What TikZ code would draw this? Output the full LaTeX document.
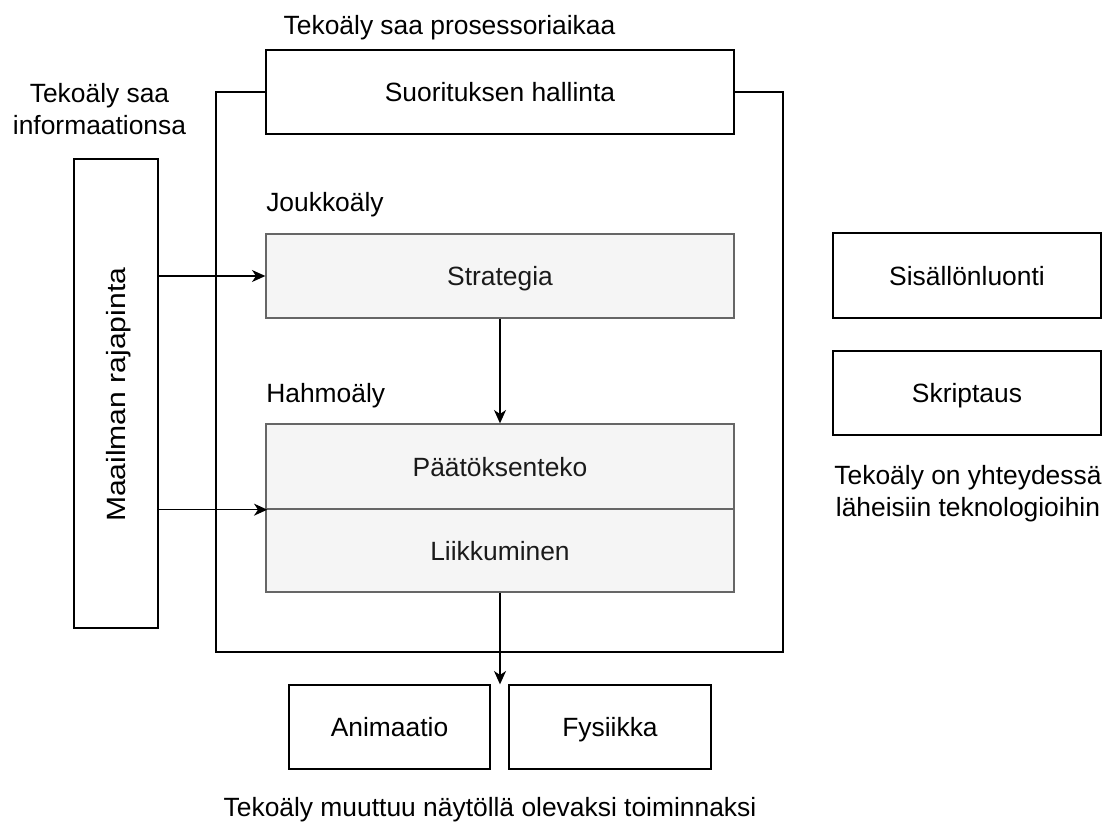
\documentclass[tikz,border=0pt]{standalone}
\usepackage{fontspec}
\setmainfont{Liberation Sans}
\usetikzlibrary{arrows.meta,calc}
\definecolor{boxgray}{HTML}{F5F5F5}
\definecolor{edgegray}{HTML}{666666}
\definecolor{txtgray}{HTML}{1A1A1A}
\begin{document}
\begin{tikzpicture}[x=0.75pt,y=-0.75pt,
  every node/.style={font=\fontsize{19.8}{23.8}\selectfont, inner sep=0pt,
    text height=14.3pt, text depth=0pt},
  plainbox/.style={draw=black, line width=1pt, fill=white},
  graybox/.style={draw=edgegray, line width=1pt, fill=boxgray, text=txtgray},
  caption/.style={align=center},
  wire/.style={draw=black, line width=1pt},
  arr/.style={wire, -{Stealth[length=10pt,width=9pt,inset=3pt]}}
]
\useasboundingbox (0,0) rectangle (1111,825);

% execution control box and the frame around the AI layers
\node[plainbox, minimum width=351pt, minimum height=63pt] (suor) at (500,92) {Suorituksen hallinta};
\coordinate (fbl) at (216,652);
\coordinate (fbr) at (783,652);
\draw[wire] (suor.west) -| (fbl) -- (fbr) |- (suor.east);

\node (tproc) at (449.5,25) {Tekoäly saa prosessoriaikaa};
\node[caption] (tinfo) at (99.5,125) {Tekoäly saa\\informaationsa};

% world interface
\node[plainbox, minimum width=63pt, minimum height=351.75pt] (maail) at (116,393.5) {};
\node[rotate=90] (maailtxt) at ([yshift=-1pt]maail.center) {\scalebox{1.14}[1]{Maailman rajapinta}};

% group AI
\node[anchor=west] (jouk) at (266,202) {Joukkoäly};
\node[graybox, minimum width=351pt, minimum height=63pt] (strat) at (500,276) {Strategia};

% character AI
\node[anchor=west] (hahm) at (266,393) {Hahmoäly};
\node[graybox, minimum width=351pt, minimum height=63.75pt] (paat) at (500,466.5) {Päätöksenteko};
\node[graybox, minimum width=351pt, minimum height=62.25pt] (liik) at (500,550.5) {Liikkuminen};

% output systems
\node[plainbox, minimum width=150.75pt, minimum height=63pt] (anim) at (389.5,727) {Animaatio};
\node[plainbox, minimum width=151.5pt, minimum height=63pt] (fys) at (610,727) {Fysiikka};
\node (tout) at (490,807) {Tekoäly muuttuu näytöllä olevaksi toiminnaksi};

% related technologies
\node[plainbox, minimum width=201pt, minimum height=63.75pt] (sis) at (967,275.5) {Sisällönluonti};
\node[plainbox, minimum width=201pt, minimum height=63pt] (skr) at (967,393) {Skriptaus};
\node[caption] (trel) at (968,507) {Tekoäly on yhteydessä\\läheisiin teknologioihin};

% connectors
\coordinate (outtip) at (liik.south |- anim.north);
\draw[arr] (maail.east |- strat.west) -- (strat.west);
\draw[arr] (maail.east |- paat.south west) -- ([xshift=1.5pt]paat.south west);
\draw[arr] (strat.south) -- (paat.north);
\draw[arr] (liik.south) -- (outtip);
\end{tikzpicture}
\end{document}
